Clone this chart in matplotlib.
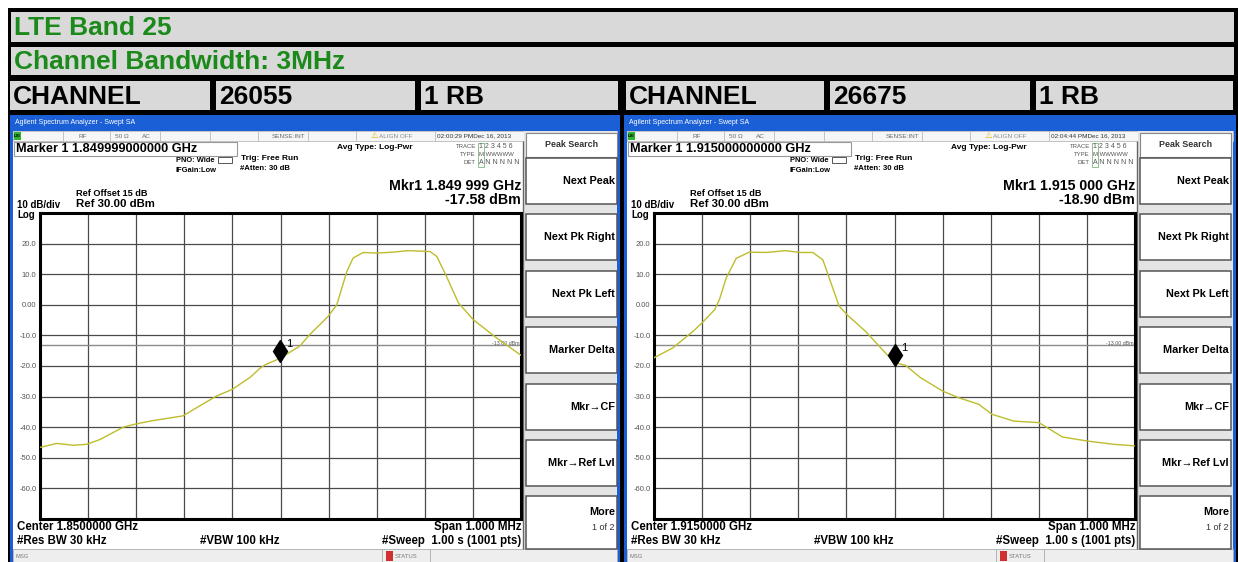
import matplotlib
matplotlib.use('Agg')
import matplotlib.pyplot as plt
import numpy as np
from matplotlib.patches import Rectangle
from matplotlib.transforms import offset_copy

plt.rcParams['font.family'] = ['Liberation Sans', 'DejaVu Sans']

W, H = 1238, 562

# ---------------- data ----------------
band_title = "LTE Band 25"
bw_title = "Channel Bandwidth: 3MHz"
channel_label = "CHANNEL"
channels = ["26055", "26675"]
rb_labels = ["1 RB", "1 RB"]
center_mhz = [1850.0, 1915.0]
span_mhz = 1.0
marker_mhz = [1849.999, 1915.000]
marker_dbm = [-17.58, -18.90]
timestamps = ["02:00:29 PM", "02:04:44 PM"]
date_label = "Dec 16, 2013"

offset_khz_a = [-500, -465, -431, -403, -375, -327, -302, -271, -203, -174, -133, -101,
                -63, -43, -32, -1, 40, 61, 99, 117, 138, 151, 172, 200, 234, 265, 311,
                325, 345, 370, 401, 449, 500]
level_a = [-46.6, -45.3, -45.9, -45.6, -44.0, -40.0, -39.0, -38.0, -36.3, -33.6, -29.8, -27.7,
           -23.7, -20.8, -19.6, -17.5, -13.5, -9.7, -3.8, 0.0, 10.9, 15.3, 17.1, 16.9, 17.2, 17.7, 17.4,
           15.8, 9.3, 0.6, -4.9, -10.8, -16.5]

offset_khz_b = [-500, -461, -419, -400, -374, -364, -350, -329, -302, -267, -226, -198, -170,
                -149, -132, -115, -97, -60, -32, 0, 23, 54, 100, 134, 175, 203, 248, 300,
                317, 349, 400, 456, 500]
level_b = [-17.3, -14.1, -8.7, -5.9, -1.6, 1.7, 8.7, 15.2, 17.2, 17.1, 17.7, 17.1, 17.1,
           14.7, 7.1, -0.5, -3.5, -8.7, -13.5, -18.9, -19.8, -23.8, -28.2, -30.4, -32.5, -35.8,
           -38.0, -38.5, -40.1, -43.2, -44.5, -45.6, -46.1]

offsets = [offset_khz_a, offset_khz_b]
levels = [level_a, level_b]

ref_level = 30.0
db_per_div = 10
n_div = 10
display_line = -13.0
softkeys = ["Next Peak", "Next Pk Right", "Next Pk Left", "Marker Delta", "Mkr\u2192CF",
            "Mkr\u2192Ref Lvl"]

# ---------------- figure ----------------
fig = plt.figure(figsize=(W / 100, H / 100), dpi=100)
bg = fig.add_axes([0, 0, 1, 1])
bg.set_xlim(0, W)
bg.set_ylim(H, 0)
bg.axis('off')

GREEN = '#1b8a1b'
GRAY = '#d9d9d9'
BLUE = '#1a5fd6'


def rect(x0, y0, x1, y1, fc, ec='none', lw=0, z=1):
    bg.add_patch(Rectangle((x0, y0), x1 - x0, y1 - y0, facecolor=fc, edgecolor=ec,
                           linewidth=lw, zorder=z))


def txt(x, y, s, size, color='black', weight='bold', ha='left', va='center', z=5, **kw):
    bg.text(x, y, s, fontsize=size, color=color, fontweight=weight, ha=ha, va=va,
            zorder=z, **kw)


def hline(x0, x1, y, color, lw=1, z=3):
    bg.plot([x0, x1], [y, y], color=color, lw=lw, zorder=z, solid_capstyle='butt')


def vline(x, y0, y1, color, lw=1, z=3):
    bg.plot([x, x], [y0, y1], color=color, lw=lw, zorder=z, solid_capstyle='butt')


# outer table
rect(8, 8, 1238, 562, 'black', z=0)
rect(11, 12, 1234, 42, GRAY)
txt(14, 28, band_title, 19, GREEN)
rect(11, 47, 1234, 75, GRAY)
txt(14, 62, bw_title, 19, GREEN)

cells = [(10, 210), (216, 415), (421, 618), (626, 824), (830, 1030), (1036, 1233)]
row3 = [channel_label, channels[0], rb_labels[0], channel_label, channels[1], rb_labels[1]]
for (c0, c1), s in zip(cells, row3):
    rect(c0, 81, c1, 110, GRAY)
    txt(c0 + 3, 97, s, 19, 'black')


def draw_screen(k, sx, w):
    # frame
    rect(sx, 115, sx + w, 562, BLUE, z=1)
    rect(sx + 3, 131, sx + w - 3, 562, 'white', z=1)
    txt(sx + 5, 123, "Agilent Spectrum Analyzer - Swept SA", 5, 'white', weight='normal')

    # status row
    rect(sx + 3, 131, sx + w - 3, 141, '#f6f6f6', ec='#bbbbbb', lw=0.6, z=2)
    rect(sx + 4, 132, sx + 11, 140, '#2db52d', z=3)
    txt(sx + 7.5, 136, "LXI", 3.2, 'black', ha='center')
    for rx in [53, 100, 150, 200, 248, 298, 346, 425]:
        vline(sx + rx, 131, 141, '#bbbbbb', lw=0.6)
    sc = '#6a6a6a'
    txt(sx + 73, 136, "RF", 4.6, sc, weight='normal', ha='center')
    txt(sx + 112, 136, "50 \u03a9", 4.6, sc, weight='normal', ha='center')
    txt(sx + 136, 136, "AC", 4.6, sc, weight='normal', ha='center')
    txt(sx + 295, 136, "SENSE:INT", 4.6, sc, weight='normal', ha='right')
    txt(sx + 364, 136, "\u26a0", 6, '#d4b000', weight='normal', ha='center')
    txt(sx + 369, 136, "ALIGN OFF", 4.6, '#8a8a8a', weight='normal')
    txt(sx + 427, 136, timestamps[k] + date_label, 4.6, '#333333', weight='normal')

    # marker box
    rect(sx + 4, 142, sx + 227, 156, 'white', ec='#999999', lw=0.8, z=2)
    ghz = marker_mhz[k] / 1000.0
    txt(sx + 6, 149.5, f"Marker 1 {ghz:.12f} GHz", 9.2)
    txt(sx + 205, 160, "PNO: Wide", 5.4, ha='right')
    rect(sx + 208, 156.5, sx + 222, 163, 'white', ec='#555555', lw=0.7, z=2)
    txt(sx + 206, 170, "IFGain:Low", 5.4, ha='right')
    txt(sx + 231, 158, "Trig: Free Run", 6)
    txt(sx + 230, 168, "#Atten: 30 dB", 5.6)
    txt(sx + 327, 147.5, "Avg Type: Log-Pwr", 6)

    # trace table
    for yy, lab, val in [(147, "TRACE", "1 2 3 4 5 6"), (155, "TYPE", "M WWWWW"),
                         (163, "DET", "A N N N N N")]:
        txt(sx + 466, yy, lab, 4.3, '#555555', weight='normal', ha='right')
        txt(sx + 469, yy, val, 5.0 if lab != "TYPE" else 4.3, '#555555', weight='normal')
    rect(sx + 467.5, 142.5, sx + 474, 167, 'none', ec='#7fb57f', lw=0.6, z=4)

    # marker readout
    s = f"{ghz:.6f}"
    txt(sx + 511, 186.5, f"Mkr1 {s[:5]} {s[5:]} GHz", 10.2, ha='right')
    txt(sx + 511, 200.5, f"{marker_dbm[k]:.2f} dBm", 10.2, ha='right')

    txt(sx + 66, 193, "Ref Offset 15 dB", 6.6)
    txt(sx + 66, 204, f"Ref {ref_level:.2f} dBm", 8.2)
    txt(sx + 7, 204.5, f"{db_per_div} dB/div", 7.0)
    txt(sx + 7, 210, "Log", 7.0, va='top')

    # bottom annotations
    txt(sx + 7, 527, f"Center {center_mhz[k] / 1000:.7f} GHz", 8.3)
    txt(sx + 511, 527, f"Span {span_mhz:.3f} MHz", 8.3, ha='right')
    txt(sx + 7, 541, "#Res BW 30 kHz", 8.3)
    txt(sx + 190, 541, "#VBW 100 kHz", 8.3)
    txt(sx + 511, 541, "#Sweep  1.00 s (1001 pts)", 8.3, ha='right')

    # msg bar
    rect(sx + 3, 549, sx + w - 3, 562, '#eeeeee', ec='#aaaaaa', lw=0.6, z=2)
    txt(sx + 6, 556, "MSG", 4.2, '#777777', weight='normal')
    vline(sx + 372, 549, 562, '#aaaaaa', lw=0.6)
    vline(sx + 420, 549, 562, '#aaaaaa', lw=0.6)
    rect(sx + 376, 551, sx + 383, 561, '#d03030', z=3)
    txt(sx + 385, 556, "STATUS", 4.2, '#777777', weight='normal')

    # softkey panel
    rect(sx + 514, 131, sx + w - 3, 549, '#e4e4e4', z=2)
    vline(sx + 513, 141, 549, '#666666', lw=1)
    rect(sx + 516, 133, sx + 607, 157, 'white', ec='#888888', lw=0.8, z=3)
    txt(sx + 561.5, 144.5, "Peak Search", 6.4, '#333333', ha='center')
    pitch = 56.4
    for i, lab in enumerate(softkeys + ["More"]):
        top = 158 + i * pitch
        bot = top + 46 if i < len(softkeys) else 549
        rect(sx + 516, top, sx + 607, bot, 'white', ec='#555555', lw=1.1, z=3)
        if lab == "More":
            txt(sx + 605, top + 16, lab, 7.8, ha='right')
            txt(sx + 605, top + 31, "1 of 2", 6.5, '#333333', weight='normal', ha='right')
        else:
            txt(sx + 605, top + 23, lab, 7.8, ha='right')

    # spectrum plot
    px0, px1, py0, py1 = sx + 30, sx + 511, 213, 519
    ax = fig.add_axes([px0 / W, 1 - py1 / H, (px1 - px0) / W, (py1 - py0) / H])
    ax.set_zorder(10)
    c = center_mhz[k]
    ax.set_xlim(c - span_mhz / 2, c + span_mhz / 2)
    bottom = ref_level - db_per_div * n_div
    ax.set_ylim(bottom, ref_level)
    ax.set_xticks(np.linspace(c - span_mhz / 2, c + span_mhz / 2, n_div + 1))
    yt = np.linspace(bottom, ref_level, n_div + 1)
    ax.set_yticks(yt)
    labs = []
    for v in yt:
        if v in (bottom, ref_level):
            labs.append('')
        elif v == 0:
            labs.append('0.00')
        else:
            labs.append(f"{v:.1f}")
    ax.set_yticklabels(labs)
    ax.set_xticklabels([])
    ax.tick_params(length=0, labelsize=5.5, labelcolor='#555555', pad=2.5)
    ax.grid(True, color='#4a4a4a', lw=0.9)
    ax.set_axisbelow(True)
    for sp in ax.spines.values():
        sp.set_linewidth(2.2)
        sp.set_color('black')
    ax.axhline(display_line, color='#8a8a8a', lw=1, zorder=2)
    ax.text(c + span_mhz / 2 - 0.003, display_line + 0.4, f"{display_line:.2f} dBm",
            fontsize=3.8, color='#555555', ha='right', va='center', zorder=3)
    freqs = [c + o / 1000.0 for o in offsets[k]]
    ax.plot(freqs, levels[k], color='#bdbd2c', lw=1.0, zorder=4)
    tr = offset_copy(ax.transData, fig=fig, x=0, y=8, units='dots')
    ax.plot([marker_mhz[k]], [marker_dbm[k]], marker='d', ms=11.5, color='black',
            linestyle='none', transform=tr, zorder=5)
    ax.annotate('1', (marker_mhz[k], marker_dbm[k]), xytext=(4.5, 10.5),
                textcoords='offset points', fontsize=8, va='center', zorder=6)


draw_screen(0, 10, 610)
draw_screen(1, 624, 612)

fig.savefig('out.png', dpi=100)
